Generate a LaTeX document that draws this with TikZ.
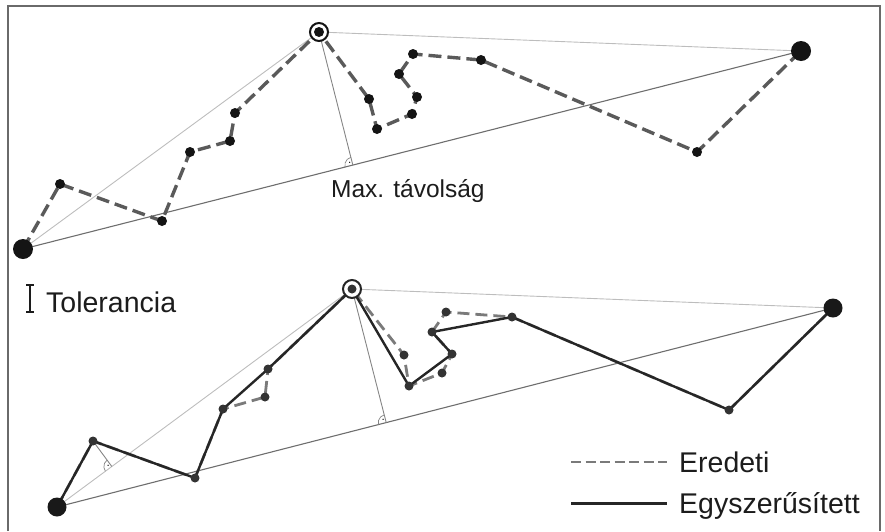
\documentclass[tikz,border=0pt]{standalone}
\usepackage{fontspec}
\setmainfont{Liberation Sans}
\usetikzlibrary{calc,angles}
\definecolor{dashgray}{HTML}{5A5A5A}
\definecolor{dashgrayb}{HTML}{7A7A7A}
\definecolor{basegray}{HTML}{6E6E6E}
\definecolor{hullgray}{HTML}{BDBDBD}
\definecolor{perpgray}{HTML}{858585}
\definecolor{framegray}{HTML}{6A6A6A}
\definecolor{simpcol}{HTML}{262626}
\definecolor{txtcol}{HTML}{1C1C1C}
\definecolor{dotb}{HTML}{333333}
\begin{document}
\begin{tikzpicture}[x=1pt,y=-1pt,
  frame/.style={draw=framegray, line width=2pt},
  orig/.style={draw=dashgray, line width=3.4pt, dash pattern=on 13pt off 6pt},
  origb/.style={draw=dashgrayb, line width=2.8pt, dash pattern=on 12pt off 6pt},
  simp/.style={draw=simpcol, line width=2.4pt, line join=round},
  basel/.style={draw=basegray, line width=1.1pt},
  hull/.style={draw=hullgray, line width=0.9pt},
  perp/.style={draw=perpgray, line width=0.9pt},
  ramark/.style={draw=perpgray, line width=0.7pt, angle radius=8pt, pic text={\tiny\textbullet}, angle eccentricity=0.45},
  dot/.style={circle, fill=black!92, inner sep=0pt, minimum size=10pt},
  bigdot/.style={circle, fill=black!92, inner sep=0pt, minimum size=20pt},
  dotbot/.style={circle, fill=dotb, inner sep=0pt, minimum size=9pt},
  bigdotbot/.style={circle, fill=black!90, inner sep=0pt, minimum size=19pt},
  ring/.style={circle, draw=black!92, line width=2pt, fill=white, inner sep=0pt, minimum size=18pt},
  lab/.style={text=txtcol, inner sep=0pt},
  legdash/.style={draw=dashgrayb, line width=2.6pt, dash pattern=on 10pt off 4.5pt},
  legsolid/.style={draw=simpcol, line width=3pt},
  ibeam/.style={draw=txtcol, line width=1.4pt}
]
\useasboundingbox (0,0) rectangle (885,531);
\draw[frame] (8,531) -- (8,6) -- (880,6) -- (880,531);

% ---------- top: original line ----------
\coordinate (p0) at (23,249);
\coordinate (p1) at (60,184);
\coordinate (p2) at (162,221);
\coordinate (p3) at (190,152);
\coordinate (p4) at (230,141);
\coordinate (p5) at (235,113);
\coordinate (p6) at (319,32);
\coordinate (p7) at (369,99);
\coordinate (p8) at (377,129);
\coordinate (p9) at (412,114);
\coordinate (p10) at (417,97);
\coordinate (p11) at (399,74);
\coordinate (p12) at (413,54);
\coordinate (p13) at (481,60);
\coordinate (p14) at (697,152);
\coordinate (p15) at (801,51);

\draw[hull] (p0) -- (p6) -- (p15);
\draw[basel] (p0) -- (p15);
\coordinate (f1) at ($(p0)!(p6)!(p15)$);
\draw[perp] (p6) -- (f1);
\pic[ramark] {angle = p6--f1--p0};
\draw[orig] (p0) -- (p1) -- (p2) -- (p3) -- (p4) -- (p5) -- (p6) -- (p7) -- (p8) -- (p9) -- (p10) -- (p11) -- (p12) -- (p13) -- (p14) -- (p15);

\node[bigdot] (dp0) at (p0) {};
\foreach \i in {1,2,3,4,5,7,8,9,10,11,12,13,14} {\node[dot] (dp\i) at (p\i) {};}
\node[ring] (rp6) at (p6) {};
\node[dot] (dp6) at (p6) {};
\node[bigdot] (dp15) at (p15) {};

\node[lab, anchor=base west, font=\fontsize{24.5}{28}\selectfont] (maxlab) at (331,197) {Max. távolság};

% ---------- tolerance ----------
\draw[ibeam] (26,285) -- (34,285) (30,285) -- (30,312) (26,312) -- (34,312);
\node[lab, anchor=base west, font=\fontsize{28.5}{32}\selectfont] (tol) at (46,312) {Tolerancia};

% ---------- bottom ----------
\coordinate (q0) at (57,507);
\coordinate (q1) at (93,441);
\coordinate (q2) at (195,478);
\coordinate (q3) at (223,409);
\coordinate (q4) at (265,397);
\coordinate (q5) at (268,369);
\coordinate (q6) at (352,289);
\coordinate (q7) at (404,355);
\coordinate (q8) at (409,386);
\coordinate (q9) at (442,373);
\coordinate (q10) at (452,354);
\coordinate (q11) at (432,332);
\coordinate (q12) at (446,312);
\coordinate (q13) at (512,317);
\coordinate (q14) at (729,410);
\coordinate (q15) at (833,308);

\draw[hull] (q0) -- (q6) -- (q15);
\draw[basel] (q0) -- (q15);
\coordinate (f2) at ($(q0)!(q6)!(q15)$);
\draw[perp] (q6) -- (f2);
\pic[ramark] {angle = q6--f2--q0};
\coordinate (f3) at ($(q0)!(q1)!(q6)$);
\draw[perp] (q1) -- (f3);
\pic[ramark] {angle = q1--f3--q0};

\draw[origb] (q0) -- (q1) -- (q2) -- (q3) -- (q4) -- (q5) -- (q6) -- (q7) -- (q8) -- (q9) -- (q10) -- (q11) -- (q12) -- (q13) -- (q14) -- (q15);
\draw[simp] (q0) -- (q1) -- (q2) -- (q3) -- (q5) -- (q6) -- (q8) -- (q10) -- (q11) -- (q13) -- (q14) -- (q15);

\node[bigdotbot] (dq0) at (q0) {};
\foreach \i in {1,2,3,4,5,7,8,9,10,11,12,13,14} {\node[dotbot] (dq\i) at (q\i) {};}
\node[ring, draw=black!85] (rq6) at (q6) {};
\node[dotbot] (dq6) at (q6) {};
\node[bigdotbot] (dq15) at (q15) {};

% ---------- legend ----------
\coordinate (l1a) at (571,462);
\coordinate (l1b) at (667,462);
\coordinate (l2a) at (571,503);
\coordinate (l2b) at (667,503);
\draw[legdash] (l1a) -- (l1b);
\draw[legsolid] (l2a) -- (l2b);
\node[lab, anchor=base west, font=\fontsize{28.5}{32}\selectfont] (ered) at (679,472) {Eredeti};
\node[lab, anchor=base west, font=\fontsize{28.5}{32}\selectfont] (egysz) at (679,513) {Egyszerűsített};
\end{tikzpicture}
\end{document}
